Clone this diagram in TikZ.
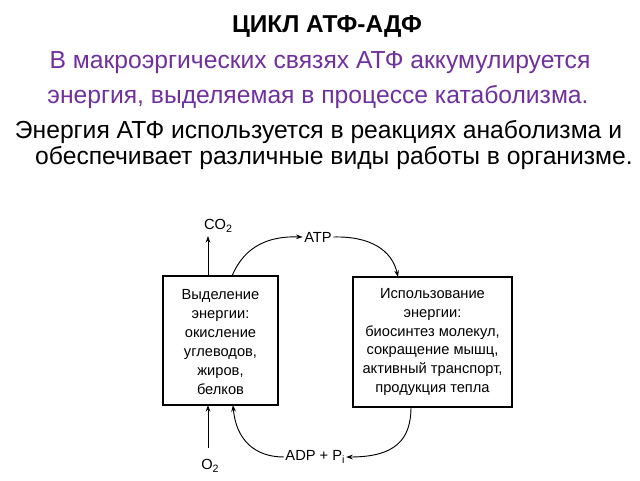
\documentclass[tikz,border=0pt]{standalone}
\usepackage{fontspec}
\setmainfont{Liberation Sans}
\usetikzlibrary{arrows.meta}
\definecolor{violet1}{HTML}{7030A0}
\newcommand{\lsub}[1]{\raisebox{-0.35ex}{\footnotesize #1}}
\begin{document}
\begin{tikzpicture}[x=0.75pt,y=-0.75pt,
  lbl/.style={font=\fontsize{11}{14}\selectfont,inner sep=1pt},
  boxtxt/.style={draw=none,align=center,font=\fontsize{11}{14.2}\selectfont},
  arr/.style={line width=0.7pt,-{Stealth[length=5pt,width=3.5pt]}},
  head/.style={font=\fontsize{18.3}{20}\selectfont\bfseries,anchor=base,inner sep=0pt},
  txt/.style={font=\fontsize{18.5}{20}\selectfont,inner sep=0pt,anchor=base}]
\useasboundingbox (0,0) rectangle (640,480);
\node[head] (title) at (327,32) {ЦИКЛ АТФ-АДФ};
\node[txt,text=violet1] (l1) at (320,68) {В макроэргических связях АТФ аккумулируется};
\node[txt,text=violet1] (l2) at (318,103) {энергия, выделяемая в процессе катаболизма.};
\node[txt] (l3) at (318.5,138) {Энергия АТФ используется в реакциях анаболизма и};
\node[txt] (l4) at (334,164) {обеспечивает различные виды работы в организме.};
% boxes
\draw[line width=0.8pt] (163,276) rectangle (278,405);
\node[boxtxt] (lb) at (220.5,342) {Выделение\\энергии:\\окисление\\углеводов,\\жиров,\\белков};
\draw[line width=0.8pt] (353,277) rectangle (512,407);
\node[boxtxt] (rb) at (432.5,342) {Использование\\энергии:\\биосинтез молекул,\\сокращение мышц,\\активный транспорт,\\продукция тепла};
\node[lbl] (co2) at (218,226) {CO\lsub{2}};
\node[lbl] (o2) at (210,466) {O\lsub{2}};
\node[lbl] (atp) at (318,237) {ATP};
\node[lbl] (adp) at (315,457) {ADP + P\lsub{i}};
\coordinate (lt1) at (208,276);
\coordinate (lt2) at (232,276);
\coordinate (lb1) at (208,405);
\coordinate (lb2) at (233,405);
\coordinate (rt) at (398,277);
\coordinate (rbb) at (411,407);
\coordinate (co2end) at (208,236);
\coordinate (o2start) at (208,448);
\draw[arr] (lt1) -- (co2end);
\draw[arr] (o2start) -- (lb1);
\draw[arr] (lt2) .. controls (245,245) and (270,236) .. (atp.west);
\draw[arr] (atp.east) .. controls (370,236) and (392,250) .. (rt);
\draw[arr] (rbb) .. controls (411,440) and (395,457) .. (adp.east);
\draw[arr] (adp.west) .. controls (255,457) and (236,440) .. (lb2);
\end{tikzpicture}
\end{document}
